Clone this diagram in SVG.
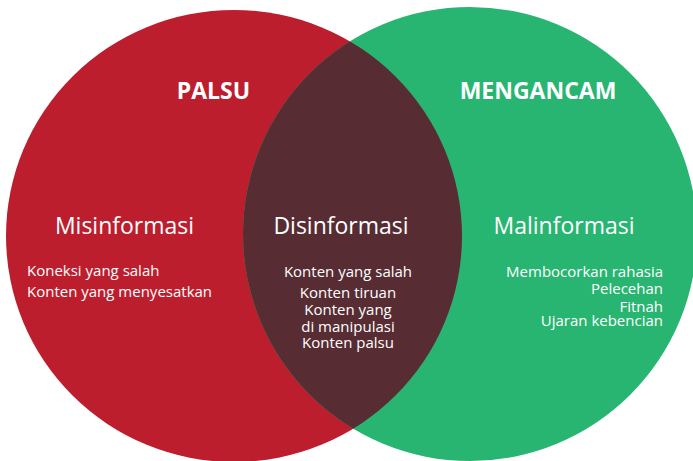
<svg xmlns="http://www.w3.org/2000/svg" width="693" height="461" viewBox="0 0 693 461">
  <style>
    text { font-family: "Open Sans", "Liberation Sans", sans-serif; fill: #ffffff; }
    .head { font-size: 23px; font-weight: bold; text-anchor: middle; }
    .title { font-size: 23px; text-anchor: middle; }
    .item { font-size: 15px; }
    .mid { text-anchor: middle; }
    .end { text-anchor: end; }
  </style>
  <defs>
    <clipPath id="clipRed">
      <ellipse cx="234" cy="236" rx="228" ry="226"/>
    </clipPath>
  </defs>
  <rect width="693" height="461" fill="#ffffff"/>
  <g id="palsu">
    <ellipse cx="234" cy="236" rx="228" ry="226" fill="#BD1E2D"/>
    <text class="head" x="213.5" y="99">PALSU</text>
  </g>
  <g id="mengancam">
    <ellipse cx="470" cy="234" rx="227" ry="227" fill="#28B571"/>
    <text class="head" x="538" y="99">MENGANCAM</text>
  </g>
  <g id="disinformasi">
    <ellipse cx="470" cy="234" rx="227" ry="227" fill="#572D33" clip-path="url(#clipRed)"/>
    <text class="title" x="341" y="234">Disinformasi</text>
    <text class="item mid" x="348" y="277">Konten yang salah</text>
    <text class="item mid" x="348" y="298">Konten tiruan</text>
    <text class="item mid" x="348" y="315">Konten yang</text>
    <text class="item mid" x="348" y="332">di manipulasi</text>
    <text class="item mid" x="348" y="348">Konten palsu</text>
  </g>
  <g id="misinformasi">
    <text class="title" x="124.5" y="234">Misinformasi</text>
    <text class="item" x="27" y="276">Koneksi yang salah</text>
    <text class="item" x="27" y="297">Konten yang menyesatkan</text>
  </g>
  <g id="malinformasi">
    <text class="title" x="564" y="234">Malinformasi</text>
    <text class="item end" x="663" y="277">Membocorkan rahasia</text>
    <text class="item end" x="663" y="294">Pelecehan</text>
    <text class="item end" x="663" y="312">Fitnah</text>
    <text class="item end" x="663" y="326">Ujaran kebencian</text>
  </g>
  <g id="connectors"/>
</svg>
